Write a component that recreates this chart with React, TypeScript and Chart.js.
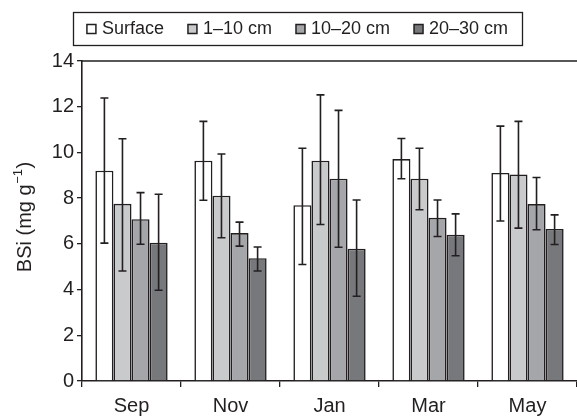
import React, { useEffect, useRef } from "react";
import { Chart, registerables } from "chart.js";

Chart.register(...registerables);

const months = ["Sep", "Nov", "Jan", "Mar", "May"];
const seriesNames = ["Surface", "1–10 cm", "10–20 cm", "20–30 cm"];
const surface = [9.2, 9.64, 7.69, 9.71, 9.1];
const cm1to10 = [7.75, 8.11, 9.64, 8.85, 9.03];
const cm10to20 = [7.08, 6.47, 8.85, 7.14, 7.74];
const cm20to30 = [6.05, 5.37, 5.79, 6.4, 6.65];
const surfaceHi = [12.38, 11.36, 10.18, 10.61, 11.15];
const surfaceLo = [6.03, 7.91, 5.1, 8.85, 7.0];
const cm1to10Hi = [10.6, 9.93, 12.52, 10.18, 11.36];
const cm1to10Lo = [4.81, 6.27, 6.85, 7.49, 6.69];
const cm10to20Hi = [8.24, 6.95, 11.84, 7.92, 8.9];
const cm10to20Lo = [5.98, 5.9, 5.85, 6.32, 6.62];
const cm20to30Hi = [8.17, 5.86, 7.92, 7.31, 7.27];
const cm20to30Lo = [3.97, 4.81, 3.71, 5.48, 5.97];
const yTicks = [0, 2, 4, 6, 8, 10, 12, 14];
const yTitleMain = "BSi (mg g";
const yTitleSup = "−1";
const yTitleEnd = ")";

const fills = ["#ffffff", "#c9cacc", "#a4a6a9", "#77787b"];
const ink = "#231f20";
const FONT = "'Liberation Sans', Arial, Helvetica, sans-serif";

const values = [surface, cm1to10, cm10to20, cm20to30];
const his = [surfaceHi, cm1to10Hi, cm10to20Hi, cm20to30Hi];
const los = [surfaceLo, cm1to10Lo, cm10to20Lo, cm20to30Lo];

const errorBarPlugin = {
  id: "errorBars",
  afterDatasetsDraw(chart: any) {
    const ctx = chart.ctx;
    const y = chart.scales.y;
    ctx.save();
    ctx.strokeStyle = ink;
    ctx.lineWidth = 1.6;
    chart.data.datasets.forEach((ds: any, di: number) => {
      const meta = chart.getDatasetMeta(di);
      meta.data.forEach((bar: any, i: number) => {
        const x = bar.x;
        const yh = y.getPixelForValue(ds.errHi[i]);
        const yl = y.getPixelForValue(ds.errLo[i]);
        const cap = 4;
        ctx.beginPath();
        ctx.moveTo(x, yh);
        ctx.lineTo(x, yl);
        ctx.moveTo(x - cap, yh);
        ctx.lineTo(x + cap, yh);
        ctx.moveTo(x - cap, yl);
        ctx.lineTo(x + cap, yl);
        ctx.stroke();
      });
    });
    ctx.restore();
  },
};

const frameLegendPlugin = {
  id: "frameLegend",
  afterDraw(chart: any) {
    const ctx = chart.ctx;
    const area = chart.chartArea;
    ctx.save();
    ctx.strokeStyle = ink;
    ctx.lineWidth = 1.5;
    ctx.beginPath();
    ctx.moveTo(area.left, area.top);
    ctx.lineTo(chart.width, area.top);
    ctx.stroke();

    // legend
    const boxL = 73, boxT = 12, boxW = 449, boxH = 33;
    ctx.lineWidth = 1.3;
    ctx.strokeRect(boxL + 0.5, boxT + 0.5, boxW, boxH);
    ctx.font = `18px ${FONT}`;
    ctx.textBaseline = "middle";
    const sq = 9, gapText = 6, gapItem = 24;
    const widths = seriesNames.map((n) => ctx.measureText(n).width);
    const total = widths.reduce((a, b) => a + b, 0) + seriesNames.length * (sq + gapText) + (seriesNames.length - 1) * gapItem;
    let x = boxL + (boxW - total) / 2;
    const cy = boxT + boxH / 2 + 0.5;
    seriesNames.forEach((n, i) => {
      ctx.fillStyle = fills[i];
      ctx.fillRect(x, cy - sq / 2, sq, sq);
      ctx.lineWidth = 1.5;
      ctx.strokeStyle = ink;
      ctx.strokeRect(x, cy - sq / 2, sq, sq);
      x += sq + gapText;
      ctx.fillStyle = ink;
      ctx.fillText(n, x, cy);
      x += widths[i] + gapItem;
    });

    // y-axis title with superscript
    const cx = 25;
    const cyT = (area.top + area.bottom) / 2 - 4;
    ctx.translate(cx, cyT);
    ctx.rotate(-Math.PI / 2);
    ctx.fillStyle = ink;
    ctx.textBaseline = "middle";
    ctx.textAlign = "left";
    const mainFont = `20px ${FONT}`;
    const supFont = `13px ${FONT}`;
    ctx.font = mainFont;
    const w1 = ctx.measureText(yTitleMain).width;
    const w3 = ctx.measureText(yTitleEnd).width;
    ctx.font = supFont;
    const w2 = ctx.measureText(yTitleSup).width;
    let tx = -(w1 + w2 + w3 + 1) / 2;
    ctx.font = mainFont;
    ctx.fillText(yTitleMain, tx, 0);
    tx += w1 + 0.5;
    ctx.font = supFont;
    ctx.fillText(yTitleSup, tx, -7);
    tx += w2 + 0.5;
    ctx.font = mainFont;
    ctx.fillText(yTitleEnd, tx, 0);
    ctx.restore();
  },
};

export default function App() {
  const ref = useRef<HTMLCanvasElement | null>(null);
  useEffect(() => {
    document.body.style.margin = "0";
    const canvas = ref.current!;
    const chart = new Chart(canvas, {
      type: "bar",
      data: {
        labels: months,
        datasets: seriesNames.map((name, i) => ({
          label: name,
          data: values[i],
          errHi: his[i],
          errLo: los[i],
          backgroundColor: fills[i],
          borderColor: ink,
          borderWidth: 1.6,
          categoryPercentage: 0.73,
          barPercentage: 1,
        })) as any,
      },
      options: {
        responsive: false,
        animation: false,
        layout: { padding: { top: 61, right: 0, bottom: 0, left: 0 } },
        plugins: {
          legend: { display: false },
          tooltip: { enabled: false },
        },
        scales: {
          x: {
            grid: { display: true, drawOnChartArea: false, drawTicks: true, tickLength: 6, color: ink, lineWidth: 1.3, offset: true },
            border: { display: true, color: ink, width: 1.6 },
            ticks: { color: ink, font: { family: FONT, size: 20 }, padding: 7 },
            afterFit: (s: any) => { s.height = 35; },
          },
          y: {
            min: 0,
            max: 14,
            afterBuildTicks: (s: any) => { s.ticks = yTicks.map((v) => ({ value: v })); },
            grid: { display: true, drawOnChartArea: false, drawTicks: true, tickLength: 5, color: ink, lineWidth: 1.3 },
            border: { display: true, color: ink, width: 1.6 },
            ticks: { color: ink, font: { family: FONT, size: 20 }, padding: 3 },
            title: { display: false },
            afterFit: (s: any) => { s.width = 82; },
          },
        },
      },
      plugins: [errorBarPlugin, frameLegendPlugin],
    });
    return () => chart.destroy();
  }, []);
  return <canvas ref={ref} width={577} height={416} style={{ display: "block" }} />;
}
